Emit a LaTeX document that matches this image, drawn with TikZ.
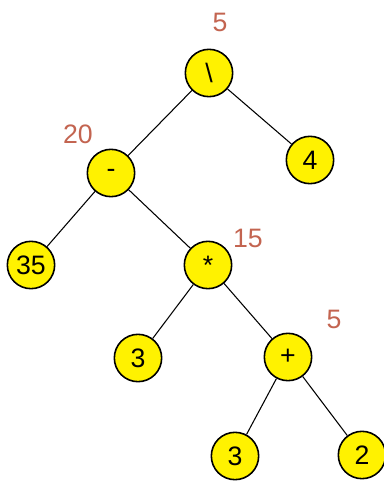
\documentclass[tikz,border=0pt]{standalone}
\usepackage{fontspec}
\setmainfont{Liberation Sans}
\usetikzlibrary{positioning}

\definecolor{valred}{RGB}{195,100,80}

\begin{document}
\begin{tikzpicture}[
    x=0.75pt, y=-0.75pt,
    font=\fontsize{20}{22}\selectfont,
    opnode/.style={
        circle,
        draw=black,
        line width=1.2pt,
        fill=yellow,
        inner sep=0pt,
        minimum size=35.5pt
    },
    value/.style={
        text=valred,
        inner sep=1pt
    },
    edge/.style={
        draw=black,
        thick
    }
]

    % Frame of the picture
    \useasboundingbox (0,0) rectangle (384,483);

    % Tree nodes
    \node[opnode] (root) at (209,73) {\textbackslash};
    \node[opnode] (minus) at (111,173) {-};
    \node[opnode] (four) at (310,160) {4};
    \node[opnode] (tfive) at (31,265) {35};
    \node[opnode] (times) at (208,265) {*};
    \node[opnode] (threea) at (138,358) {3};
    \node[opnode] (plus) at (288,357) {+};
    \node[opnode] (threeb) at (235,456) {3};
    \node[opnode] (two) at (362,455) {2};

    % Computed values
    \node[value] (val_root) at (220,22) {5};
    \node[value] (val_minus) at (78,134) {20};
    \node[value] (val_times) at (248,238) {15};
    \node[value] (val_plus) at (334,319) {5};

    % Connectors
    \draw[edge] (root) -- (minus);
    \draw[edge] (root) -- (four);
    \draw[edge] (minus) -- (tfive);
    \draw[edge] (minus) -- (times);
    \draw[edge] (times) -- (threea);
    \draw[edge] (times) -- (plus);
    \draw[edge] (plus) -- (threeb);
    \draw[edge] (plus) -- (two);

\end{tikzpicture}
\end{document}
